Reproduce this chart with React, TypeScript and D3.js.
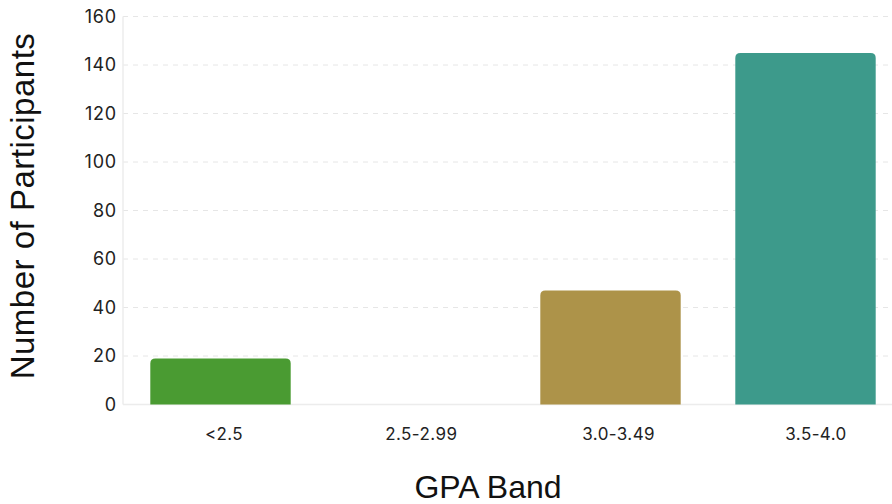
import React from "react";
import * as d3 from "d3";

const categories = ["<2.5", "2.5-2.99", "3.0-3.49", "3.5-4.0"];
const participants = [19, 0, 47, 145];
const barColors = ["#4a9b32", "#9aa0a6", "#ad9349", "#3d9a8b"];
const yTicks = [0, 20, 40, 60, 80, 100, 120, 140, 160];

const W = 892;
const H = 504;
const left = 123;
const right = 903;
const top = 16.5;
const bottom = 404.5;

function roundedTopBar(x: number, y: number, w: number, h: number, r: number) {
  const rr = Math.min(r, h, w / 2);
  return `M${x},${y + h}V${y + rr}Q${x},${y} ${x + rr},${y}H${x + w - rr}Q${x + w},${y} ${x + w},${y + rr}V${y + h}Z`;
}

export default function App() {
  const x = d3.scaleBand<string>().domain(categories).range([left, right]).paddingInner(0.28).paddingOuter(0.14);
  // category labels sit on their own slightly wider spread
  const xLabel = d3.scalePoint<string>().domain(categories).range([224, 816]);
  const y = d3.scaleLinear().domain([0, 160]).range([bottom, top]);

  return (
    <svg width={W} height={H} style={{ position: "absolute", left: 0, top: 0, background: "#fff" }}>
      {yTicks.map((t) => (
        <g key={t}>
          {t > 0 && (
            <line x1={left} x2={W} y1={y(t)} y2={y(t)} stroke="#e6e6e6" strokeWidth={1} strokeDasharray="5,5" />
          )}
          <text x={117} y={y(t)} dy="0.35em" textAnchor="end" fontFamily="Inter, 'Open Sans', sans-serif" fontSize={18} letterSpacing={0.8} fill="#222">
            {t}
          </text>
        </g>
      ))}
      <line x1={left} x2={left} y1={top} y2={bottom} stroke="#ececec" strokeWidth={1.5} />
      <line x1={left} x2={W} y1={bottom} y2={bottom} stroke="#ececec" strokeWidth={1.5} />
      {categories.map((c, i) => {
        const v = participants[i];
        const bx = x(c)!;
        const bw = x.bandwidth();
        return (
          <g key={c}>
            {v > 0 && (
              <path d={roundedTopBar(bx, y(v), bw, y(0) - y(v), 5)} fill={barColors[i]} />
            )}
            <text x={xLabel(c)} y={434} dy="0.35em" textAnchor="middle" fontFamily="Inter, 'Open Sans', sans-serif" fontSize={17} letterSpacing={0.4} fill="#222">
              {c}
            </text>
          </g>
        );
      })}
      <text x={488} y={487} dy="0.35em" textAnchor="middle" fontFamily="'Liberation Sans', Arial, sans-serif" fontSize={32} fill="#111">
        GPA Band
      </text>
      <text
        transform={`translate(22,206) rotate(-90)`}
        dy="0.35em"
        textAnchor="middle"
        fontFamily="'Liberation Sans', Arial, sans-serif"
        fontSize={33}
        letterSpacing={0.5}
        fill="#111"
      >
        Number of Participants
      </text>
    </svg>
  );
}
